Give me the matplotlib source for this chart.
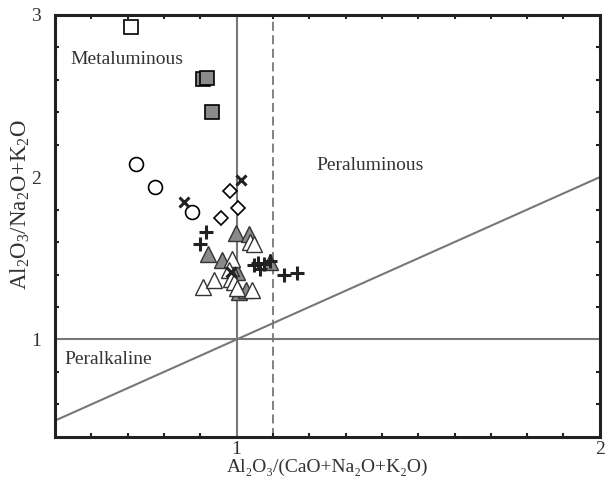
import matplotlib
matplotlib.use("Agg")
import matplotlib.pyplot as plt
import numpy as np

plt.rcParams['font.family'] = ['Liberation Serif', 'DejaVu Serif']
plt.rcParams['mathtext.fontset'] = 'custom'
plt.rcParams['mathtext.rm'] = 'Liberation Serif'
plt.rcParams['mathtext.it'] = 'Liberation Serif:italic'

# Data (A/CNK, A/NK)
open_sq_x = [0.709]
open_sq_y = [2.926]
gray_sq_x = [0.906, 0.919, 0.931]
gray_sq_y = [2.605, 2.613, 2.403]
circle_x = [0.724, 0.776, 0.876]
circle_y = [2.080, 1.940, 1.786]
xmark_x = [0.855, 1.011, 0.984]
xmark_y = [1.848, 1.981, 1.416]
diamond_x = [0.982, 1.004, 0.956]
diamond_y = [1.914, 1.813, 1.751]
plus_x = [0.915, 0.899, 1.048, 1.063, 1.075, 1.092, 1.058, 1.130, 1.167]
plus_y = [1.662, 1.590, 1.457, 1.436, 1.467, 1.483, 1.470, 1.395, 1.409]
gray_tri_x = [0.997, 1.034, 0.921, 0.961, 1.002, 1.006, 1.025, 1.093, 0.985]
gray_tri_y = [1.656, 1.652, 1.529, 1.488, 1.416, 1.292, 1.302, 1.477, 1.44]
open_tri_x = [1.038, 1.048, 0.988, 0.979, 0.984, 0.993, 1.000, 0.906, 0.938, 1.043]
open_tri_y = [1.601, 1.590, 1.498, 1.426, 1.374, 1.354, 1.319, 1.323, 1.364, 1.302]

fig = plt.figure(figsize=(6.12, 4.8), dpi=100)
ax = fig.add_axes([0.09, 0.09, 0.89, 0.879])

line_c = '#777777'
ax.axvline(1.0, color=line_c, lw=1.5, zorder=1)
ax.axhline(1.0, color=line_c, lw=1.5, zorder=1)
ax.axvline(1.1, color=line_c, lw=1.3, ls=(0, (5, 2.5)), zorder=1)
xx = np.array([0.5, 2.0])
ax.plot(xx, xx, color=line_c, lw=1.5, zorder=1)

gray = '#8a8a8a'
ms = 10
ax.plot(open_sq_x, open_sq_y, 's', ms=ms, mfc='white', mec='black', mew=1.2, ls='none', zorder=3)
ax.plot(gray_sq_x, gray_sq_y, 's', ms=ms, mfc=gray, mec='black', mew=1.2, ls='none', zorder=3)
ax.plot(circle_x, circle_y, 'o', ms=ms, mfc='white', mec='black', mew=1.2, ls='none', zorder=3)
ax.plot(diamond_x, diamond_y, 'D', ms=7.5, mfc='white', mec='black', mew=1.2, ls='none', zorder=3)
ax.plot(gray_tri_x, gray_tri_y, '^', ms=11, mfc=gray, mec='#333333', mew=1.0, ls='none', zorder=3)
ax.plot(open_tri_x, open_tri_y, '^', ms=11, mfc='white', mec='#333333', mew=1.0, ls='none', zorder=4)
ax.plot(plus_x, plus_y, '+', ms=9.5, mec='#222222', mew=2.2, ls='none', zorder=5)
ax.plot(xmark_x, xmark_y, 'x', ms=7, mec='#222222', mew=2.2, ls='none', zorder=5)

txt_c = '#333333'
ax.text(0.698, 2.728, 'Metaluminous', fontsize=14, color=txt_c, ha='center', va='center')
ax.text(1.367, 2.074, 'Peraluminous', fontsize=14, color=txt_c, ha='center', va='center')
ax.text(0.647, 0.877, 'Peralkaline', fontsize=14, color=txt_c, ha='center', va='center')

ax.set_xlim(0.5, 2.0)
ax.set_ylim(0.4, 3.0)
ax.set_xticks([1, 2])
ax.set_xticklabels(['1', '2'])
ax.set_yticks([1, 2, 3])
ax.set_yticklabels(['1', '2', '3'])
ax.set_xticks(np.arange(0.6, 2.0, 0.1), minor=True)
ax.set_yticks(np.arange(0.6, 3.0, 0.2), minor=True)
ax.tick_params(which='both', direction='in', top=True, right=True, labelsize=14,
               labelcolor=txt_c, width=1.5, color='#222222')
ax.tick_params(which='major', length=0)
ax.tick_params(which='minor', length=3)
ax.tick_params(axis='x', pad=3)
ax.tick_params(axis='y', pad=10)
for s in ax.spines.values():
    s.set_linewidth(2.2)
    s.set_color('#222222')

ax.set_xlabel('Al\u2082O\u2083/(CaO+Na\u2082O+K\u2082O)', fontsize=14, color=txt_c)
ax.xaxis.set_label_coords(0.5, -0.053)
ax.set_ylabel(r'Al$_2$O$_3$/Na$_2$O+K$_2$O', fontsize=16.5, color=txt_c)
ax.yaxis.set_label_coords(-0.043, 0.55)

fig.savefig('out.png', dpi=100)
